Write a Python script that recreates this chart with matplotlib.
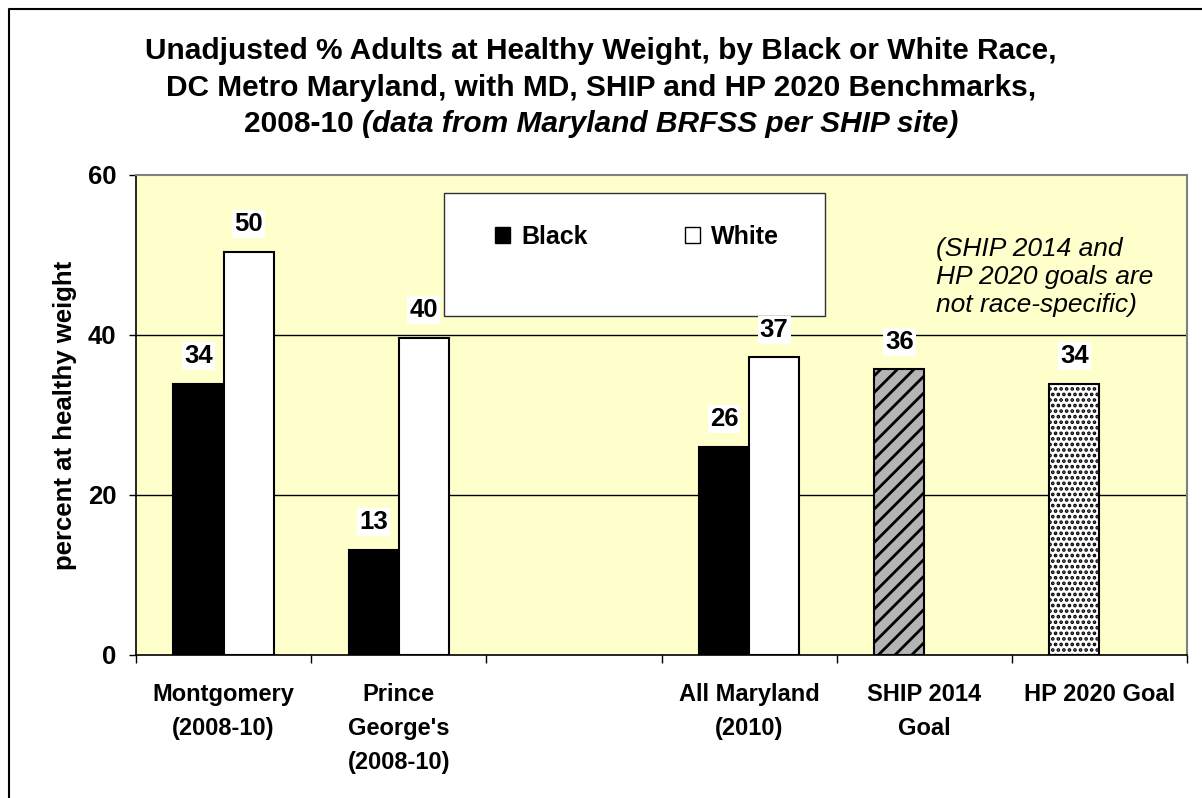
import matplotlib
matplotlib.use("Agg")
import numpy as np
import matplotlib.pyplot as plt
from matplotlib.patches import Patch, Rectangle
from matplotlib.lines import Line2D

plt.rcParams['font.family'] = ['Liberation Sans', 'DejaVu Sans']
plt.rcParams['hatch.linewidth'] = 2.0

# ---------------------------------------------------------------------------------
# Data
# ---------------------------------------------------------------------------------
categories = ["Montgomery\n(2008-10)", "Prince\nGeorge's\n(2008-10)", "",
              "All Maryland\n(2010)", "SHIP 2014\nGoal", "HP 2020 Goal"]
race_idx = [0, 1, 3]
black_pct = [33.9, 13.1, 26.0]
white_pct = [50.4, 39.6, 37.2]
goal_idx = [4, 5]
goal_pct = [35.7, 33.9]
goal_face = ["#b4b4b4", "white"]
goal_hatch = ["//", "..."]
goal_hatch_lw = [2.0, 1.8]
yticks = [0, 20, 40, 60]

W, H = 1202, 798
fig = plt.figure(figsize=(W / 100, H / 100), dpi=100)
fig.patch.set_facecolor("white")

ax = fig.add_axes([136 / W, 1 - 655 / H, (1187 - 136) / W, (655 - 175) / H])
ax.set_facecolor("#ffffcc")
ax.set_xlim(-0.5, len(categories) - 0.5)
ax.set_ylim(0, 60)

bw = 0.286
bx = np.array(race_idx, dtype=float)
ax.bar(bx - bw / 2, black_pct, bw, color="black", edgecolor="black", lw=1.5, zorder=3)
ax.bar(bx + bw / 2, white_pct, bw, color="white", edgecolor="black", lw=1.5, zorder=3)
gx = np.array(goal_idx, dtype=float)
goal_bars = ax.bar(gx - bw / 2, goal_pct, bw, edgecolor="black", lw=1.5, zorder=3)
for patch, fc, h, hlw in zip(goal_bars, goal_face, goal_hatch, goal_hatch_lw):
    patch.set_facecolor(fc)
    patch.set_hatch(h)
    if hasattr(patch, "set_hatch_linewidth"):
        patch.set_hatch_linewidth(hlw)

# value labels on white boxes
label_kw = dict(textcoords="offset points", xytext=(0, 20), ha="center", va="center",
                fontsize=18.5, fontweight="bold", zorder=6,
                bbox=dict(fc="white", ec="none", pad=1.5))
for xv, v in zip(bx - bw / 2, black_pct):
    ax.annotate(f"{v:.0f}", (xv, v), **label_kw)
for xv, v in zip(bx + bw / 2, white_pct):
    ax.annotate(f"{v:.0f}", (xv, v), **label_kw)
for xv, v in zip(gx - bw / 2, goal_pct):
    ax.annotate(f"{v:.0f}", (xv, v), **label_kw)

# grid and axes styling
for g in yticks[1:-1]:
    ax.axhline(g, color="black", lw=1, zorder=1)
ax.set_yticks(yticks)
ax.set_yticklabels([str(t) for t in yticks], fontsize=18.5, fontweight="bold")
ax.tick_params(axis="y", direction="out", length=5, width=1, pad=9)
ax.set_xticks(np.arange(-0.5, len(categories)), minor=False)
ax.set_xticklabels([])
ax.set_xticks(np.arange(len(categories)), minor=True)
ax.set_xticklabels(categories, minor=True, fontsize=17, fontweight="bold", linespacing=1.62)
ax.tick_params(axis="x", which="major", direction="out", length=6, width=1)
ax.tick_params(axis="x", which="minor", length=0, pad=20)
for s in ["left", "bottom"]:
    ax.spines[s].set_color("black")
    ax.spines[s].set_linewidth(1.2)
for s in ["top", "right"]:
    ax.spines[s].set_color("#808080")
    ax.spines[s].set_linewidth(1.5)
ax.set_ylabel("percent at healthy weight", fontsize=18.5, fontweight="bold", labelpad=8)

# legend with its own box
ax.add_patch(Rectangle((444 / W, 1 - 316 / H), (825 - 444) / W, (316 - 193) / H,
                       transform=fig.transFigure, fc="white", ec="#303030", lw=1,
                       zorder=4, clip_on=False))
handles = [Patch(fc="black", ec="black"), Patch(fc="white", ec="black")]
leg = ax.legend(handles, ["Black", "White"], ncol=2, loc="center",
                bbox_to_anchor=(637 / W, 1 - 237 / H), bbox_transform=fig.transFigure,
                frameon=False, prop=dict(size=18, weight="bold"),
                handlelength=0.58, handleheight=0.58, handletextpad=0.45, columnspacing=3.9)
leg.set_zorder(5)

ax.text(936 / W, 1 - 277 / H, "(SHIP 2014 and\nHP 2020 goals are\nnot race-specific)",
        transform=fig.transFigure, ha="left", va="center", fontsize=19,
        fontstyle="italic", linespacing=1.2, zorder=5)

# title, last line mixes bold and bold italic
fs_title = 21.5
fig.text(0.5, 1 - 51 / H, "Unadjusted % Adults at Healthy Weight, by Black or White Race,",
         ha="center", va="center", fontsize=fs_title, fontweight="bold")
fig.text(0.5, 1 - 88 / H, "DC Metro Maryland, with MD, SHIP and HP 2020 Benchmarks,",
         ha="center", va="center", fontsize=fs_title, fontweight="bold")
t1 = fig.text(0, 1 - 124 / H, "2008-10 ", ha="left", va="center",
              fontsize=fs_title, fontweight="bold")
t2 = fig.text(0, 1 - 124 / H, "(data from Maryland BRFSS per SHIP site)", ha="left",
              va="center", fontsize=fs_title, fontweight="bold", fontstyle="italic")
r = fig.canvas.get_renderer()
w1 = t1.get_window_extent(r).width
w2 = t2.get_window_extent(r).width
x0 = (W - w1 - w2) / 2
t1.set_x(x0 / W)
t2.set_x((x0 + w1) / W)

# outer chart border (top and left edges visible)
fig.add_artist(Line2D([9 / W, 9 / W, 1], [0, 1 - 9 / H, 1 - 9 / H],
                      transform=fig.transFigure, color="black", lw=1.5))

fig.savefig("out.png", dpi=100)
